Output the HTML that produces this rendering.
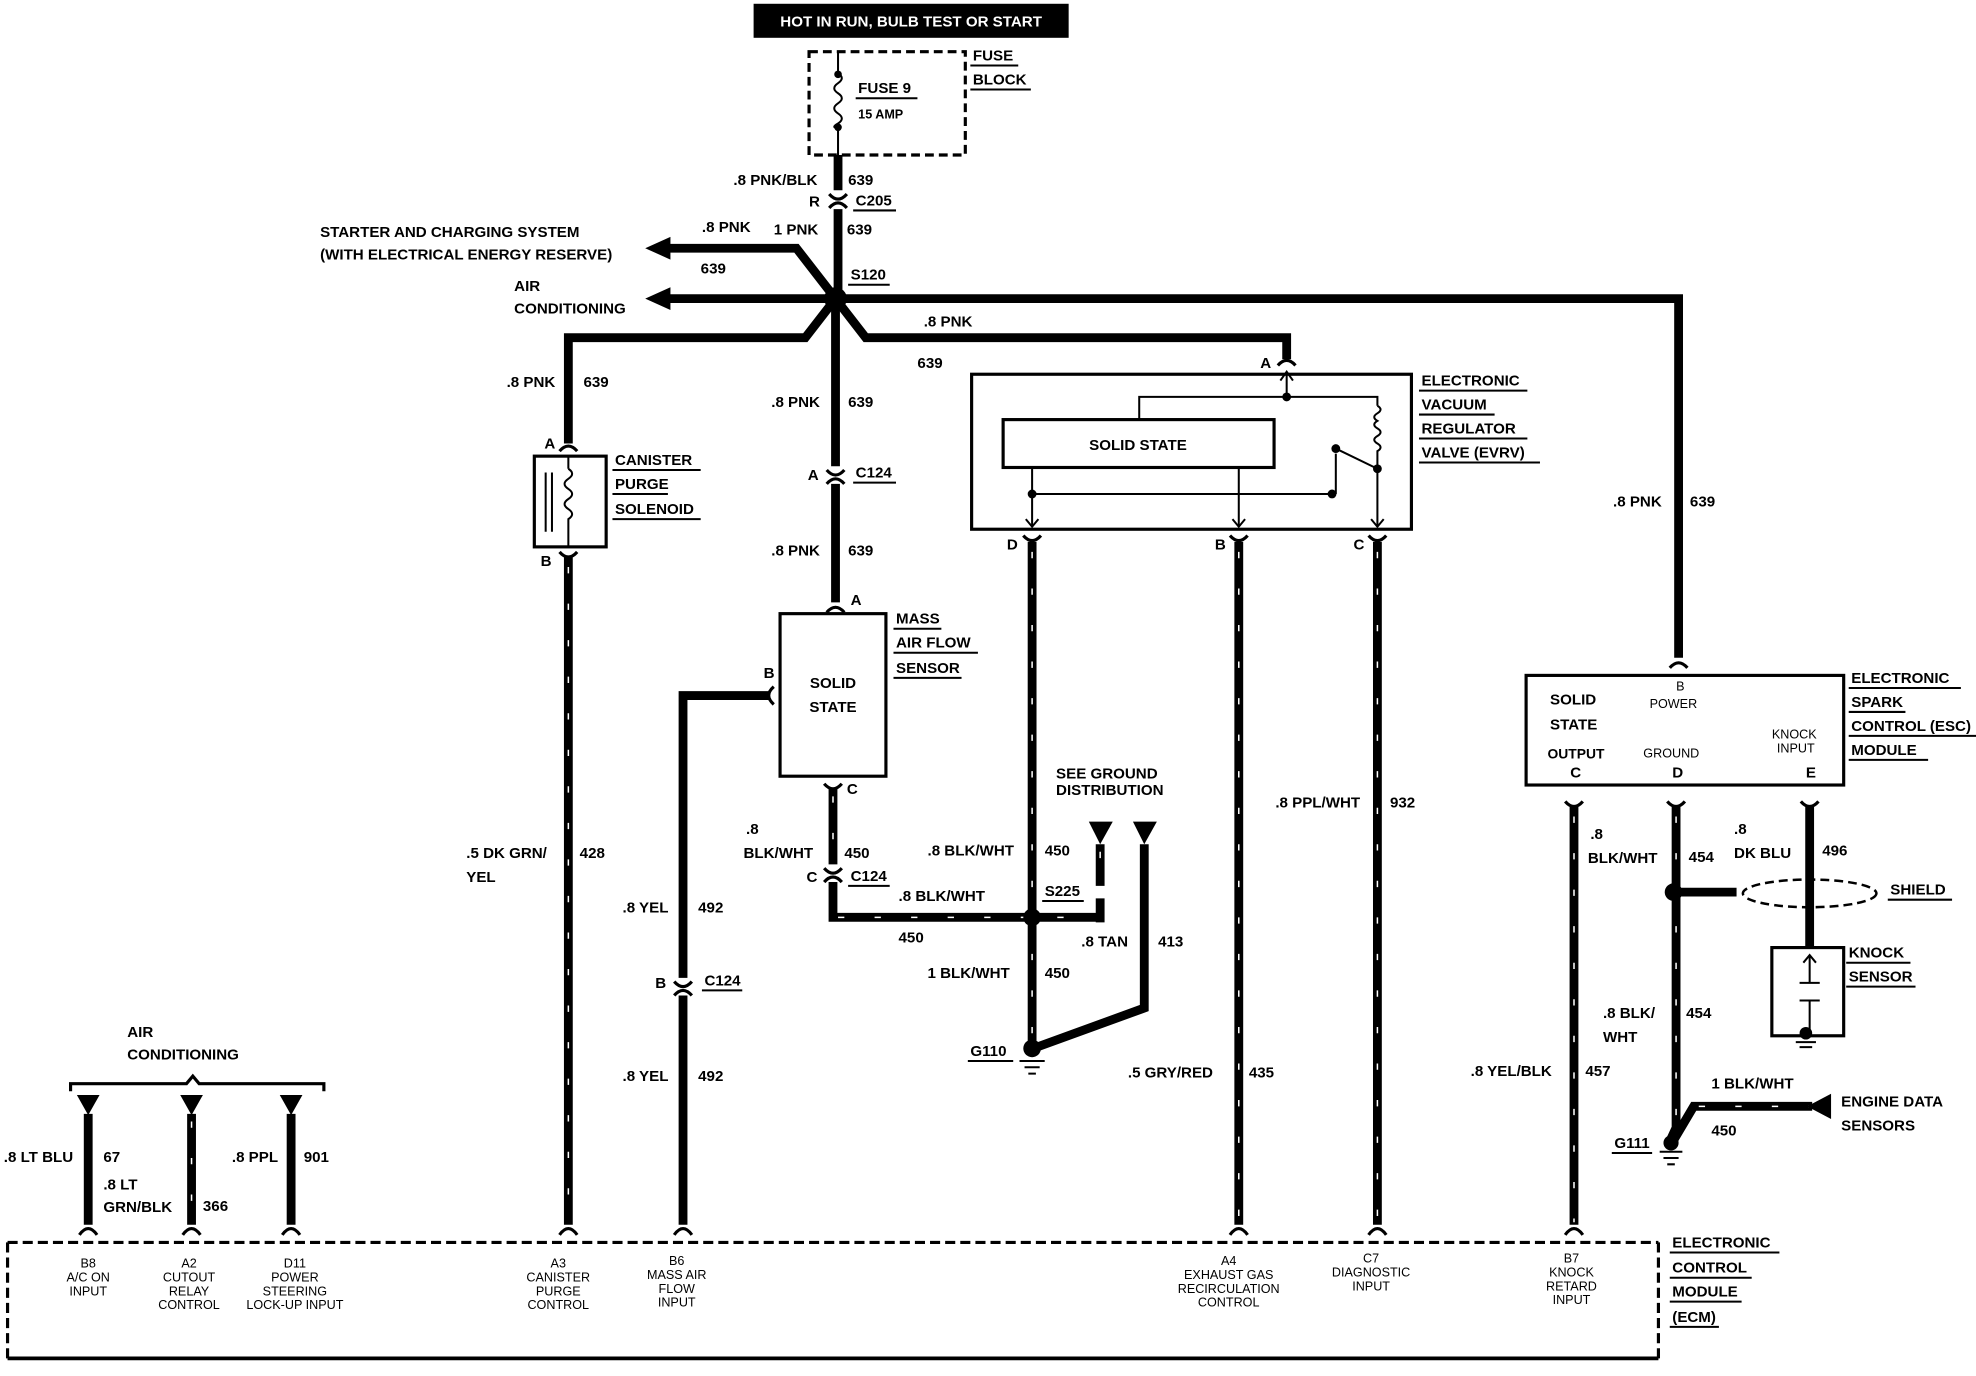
<!DOCTYPE html>
<html><head><meta charset="utf-8"><style>
html,body{margin:0;padding:0;background:#fff;}
svg{display:block;}
text{font-family:"Liberation Sans",sans-serif;font-weight:bold;font-size:12px;fill:#000;}
.s{font-size:10px;font-weight:normal;}
.w{stroke:#000;stroke-width:7;fill:none;stroke-linejoin:miter;}
.st{stroke:#fff;stroke-width:1.2;stroke-dasharray:5 24;fill:none;}
.t{stroke:#000;stroke-width:1.6;fill:none;}
.u{stroke:#000;stroke-width:1.6;}
.f{stroke:#000;stroke-width:2.5;fill:none;}
</style></head><body>
<svg width="1976" height="1376" viewBox="0 0 1568 1092" preserveAspectRatio="none" xmlns="http://www.w3.org/2000/svg">
<rect x="598" y="3" width="250" height="27" fill="#000"/>
<text x="723" y="21" text-anchor="middle" style="fill:#fff;font-size:12px">HOT IN RUN, BULB TEST OR START</text>
<rect x="642" y="41" width="124" height="82" fill="none" stroke="#000" stroke-width="2.5" stroke-dasharray="7 4"/>
<path class="t" d="M665 41 V58 M665 102 V123 M665 58 q6 4 0 8 q-6 4 0 8 q6 4 0 8 q-6 4 0 8 q6 4 0 8 q-6 3 0 4"/>
<circle cx="665" cy="59" r="3"/><circle cx="665" cy="101" r="3"/>
<text x="681" y="74">FUSE 9</text><line class="u" x1="679" y1="78" x2="728" y2="78"/>
<text x="681" y="94" style="font-size:10px">15 AMP</text>
<text x="772" y="48">FUSE</text><line class="u" x1="770" y1="52" x2="808" y2="52"/>
<text x="772" y="67">BLOCK</text><line class="u" x1="770" y1="71" x2="818" y2="71"/>
<path class="w" d="M665 123 V151 M665 166 V237"/>
<path class="f" d="M658 154 Q665 162 672 154 M658 165 Q665 157 672 165"/>
<text x="582" y="147">.8 PNK/BLK</text><text x="673" y="147">639</text>
<text x="642" y="164">R</text><text x="679" y="163">C205</text><line class="u" x1="677" y1="167" x2="711" y2="167"/>
<text x="614" y="186">1 PNK</text><text x="672" y="186">639</text>
<path class="w" d="M663 237 L632 197 H530"/>
<path d="M512 197 L532 188 V206 Z"/>
<text x="557" y="184">.8 PNK</text><text x="556" y="217">639</text>
<text x="254" y="188">STARTER AND CHARGING SYSTEM</text>
<text x="254" y="206">(WITH ELECTRICAL ENERGY RESERVE)</text>
<path class="w" d="M663 237 H530"/>
<path d="M512 237 L532 228 V246 Z"/>
<text x="408" y="231">AIR</text><text x="408" y="249">CONDITIONING</text>
<path class="w" d="M663 237 H1332 V522"/>
<text x="1280" y="402">.8 PNK</text><text x="1341" y="402">639</text>
<circle cx="663" cy="237" r="9"/>
<text x="675" y="222">S120</text><line class="u" x1="673" y1="226" x2="706" y2="226"/>
<path class="w" d="M663 237 L639 268 H451 V352"/>
<text x="402" y="307">.8 PNK</text><text x="463" y="307">639</text>
<path class="w" d="M663 237 L687 268 H1021 V285"/>
<path class="f" d="M1014 290 Q1021 282 1028 290"/>
<text x="733" y="259">.8 PNK</text><text x="728" y="292">639</text>
<text x="1000" y="292">A</text>
<path class="w" d="M663 237 V370 M663 384 V478"/>
<path class="f" d="M656 373 Q663 381 670 373 M656 384 Q663 376 670 384"/>
<text x="612" y="323">.8 PNK</text><text x="673" y="323">639</text>
<text x="641" y="381">A</text><text x="679" y="379">C124</text><line class="u" x1="677" y1="383" x2="711" y2="383"/>
<text x="612" y="441">.8 PNK</text><text x="673" y="441">639</text>
<path class="f" d="M656 486 Q663 478 670 486"/><text x="675" y="480">A</text>
<rect x="424" y="362" width="57" height="72" fill="none" stroke="#000" stroke-width="2.5"/>
<path class="f" d="M444 358 Q451 350 458 358 M444 438 Q451 446 458 438"/>
<path class="t" d="M433 375 V422 M438 375 V422 M451 362 V372 M451 372 q6 4 0 8 q-6 4 0 8 q6 4 0 8 q-6 4 0 8 q6 4 0 8 V434"/>
<text x="432" y="356">A</text><text x="429" y="449">B</text>
<text x="488" y="369">CANISTER</text><line class="u" x1="486" y1="373" x2="556" y2="373"/>
<text x="488" y="388">PURGE</text><line class="u" x1="486" y1="392" x2="530" y2="392"/>
<text x="488" y="408">SOLENOID</text><line class="u" x1="486" y1="412" x2="556" y2="412"/>
<path class="w" d="M451 442 V972"/><path class="st" d="M451 450 V970"/>
<path class="f" d="M444 980 Q451 970 458 980"/>
<text x="370" y="681">.5 DK GRN/</text><text x="370" y="700">YEL</text><text x="460" y="681">428</text>
<rect x="771" y="297" width="349" height="123" fill="none" stroke="#000" stroke-width="2.5"/>
<rect x="796" y="333" width="215" height="38" fill="none" stroke="#000" stroke-width="2.5"/>
<text x="903" y="357" text-anchor="middle">SOLID STATE</text>
<path class="t" d="M1021 297 V315 M904 333 V315 H1093 V322 M1093 322 q5 3 0 6 q-5 3 0 6 q-5 3 0 6 q5 3 0 6 q-5 3 0 6 q5 3 0 6 V372 M1093 372 L1060 356 M1093 372 V418 M1060 360 V392 M1057 392 H819 M819 371 V418 M983 371 V418"/>
<path class="t" d="M1016 302 L1021 295 L1026 302 M814 412 L819 418 L824 412 M978 412 L983 418 L988 412 M1088 412 L1093 418 L1098 412"/>
<circle cx="1021" cy="315" r="3.5"/><circle cx="1093" cy="372" r="3.5"/><circle cx="1060" cy="356" r="3.5"/><circle cx="1057" cy="392" r="3.5"/><circle cx="819" cy="392" r="3.5"/>
<text x="1128" y="306">ELECTRONIC</text><line class="u" x1="1126" y1="310" x2="1212" y2="310"/>
<text x="1128" y="325">VACUUM</text><line class="u" x1="1126" y1="329" x2="1186" y2="329"/>
<text x="1128" y="344">REGULATOR</text><line class="u" x1="1126" y1="348" x2="1212" y2="348"/>
<text x="1128" y="363">VALVE (EVRV)</text><line class="u" x1="1126" y1="367" x2="1222" y2="367"/>
<text x="799" y="436">D</text><text x="964" y="436">B</text><text x="1074" y="436">C</text>
<path class="f" d="M812 425 Q819 433 826 425 M976 425 Q983 433 990 425 M1086 425 Q1093 433 1100 425"/>
<path class="w" d="M819 430 V830"/><path class="st" d="M819 438 V825"/>
<path class="w" d="M983 430 V972"/><path class="st" d="M983 438 V970"/>
<path class="w" d="M1093 430 V972"/><path class="st" d="M1093 438 V970"/>
<path class="f" d="M976 980 Q983 970 990 980 M1086 980 Q1093 970 1100 980"/>
<text x="895" y="855">.5 GRY/RED</text><text x="991" y="855">435</text>
<text x="1012" y="641">.8 PPL/WHT</text><text x="1103" y="641">932</text>
<rect x="619" y="487" width="84" height="129" fill="none" stroke="#000" stroke-width="2.5"/>
<text x="661" y="546" text-anchor="middle">SOLID</text><text x="661" y="565" text-anchor="middle">STATE</text>
<text x="711" y="495">MASS</text><line class="u" x1="709" y1="499" x2="747" y2="499"/>
<text x="711" y="514">AIR FLOW</text><line class="u" x1="709" y1="518" x2="776" y2="518"/>
<text x="711" y="534">SENSOR</text><line class="u" x1="709" y1="538" x2="763" y2="538"/>
<text x="606" y="538">B</text>
<path class="f" d="M614 545 Q606 552 614 559"/>
<path class="w" d="M611 552 H542 V776 M542 790 V972"/>
<path class="f" d="M535 779 Q542 787 549 779 M535 790 Q542 782 549 790 M535 980 Q542 970 549 980"/>
<text x="494" y="724">.8 YEL</text><text x="554" y="724">492</text>
<text x="520" y="784">B</text><text x="559" y="782">C124</text><line class="u" x1="557" y1="786" x2="589" y2="786"/>
<text x="494" y="858">.8 YEL</text><text x="554" y="858">492</text>
<text x="672" y="630">C</text>
<path class="f" d="M654 622 Q661 630 668 622"/>
<path class="w" d="M661 626 V686 M661 700 V728 H870"/><path class="st" d="M661 632 V684 M665 728 H865"/>
<path class="f" d="M654 689 Q661 697 668 689 M654 700 Q661 692 668 700"/>
<text x="592" y="662">.8</text><text x="590" y="681">BLK/WHT</text><text x="670" y="681">450</text>
<text x="640" y="700">C</text><text x="675" y="699">C124</text><line class="u" x1="673" y1="703" x2="706" y2="703"/>
<text x="713" y="715">.8 BLK/WHT</text><text x="713" y="748">450</text>
<text x="736" y="679">.8 BLK/WHT</text><text x="829" y="679">450</text>
<text x="736" y="776">1 BLK/WHT</text><text x="829" y="776">450</text>
<circle cx="819" cy="728" r="7"/>
<text x="829" y="711">S225</text><line class="u" x1="827" y1="715" x2="860" y2="715"/>
<text x="838" y="618">SEE GROUND</text><text x="838" y="631">DISTRIBUTION</text>
<path d="M864 652 H883 L873 670 Z"/><path d="M899 652 H918 L908 670 Z"/>
<path class="w" d="M873 670 V703 M873 713 V732"/><path class="st" d="M873 676 V730"/>
<path class="w" d="M908 670 V800 L820 832"/>
<text x="858" y="751">.8 TAN</text><text x="919" y="751">413</text>
<circle cx="819" cy="832" r="7"/>
<path class="t" d="M809 842 H829 M813 847 H825 M816 852 H822"/>
<text x="770" y="838">G110</text><line class="u" x1="768" y1="842" x2="804" y2="842"/>
<rect x="1211" y="536" width="252" height="87" fill="none" stroke="#000" stroke-width="2.5"/>
<path class="f" d="M1325 530 Q1332 522 1339 530"/>
<text x="1230" y="559">SOLID</text><text x="1230" y="579">STATE</text>
<text x="1228" y="602" style="font-size:11px">OUTPUT</text><text x="1246" y="617">C</text>
<text x="1330" y="548" class="s">B</text><text x="1309" y="562" class="s">POWER</text>
<text x="1304" y="601" class="s">GROUND</text><text x="1327" y="617">D</text>
<text x="1406" y="586" class="s">KNOCK</text><text x="1410" y="597" class="s">INPUT</text><text x="1433" y="617">E</text>
<text x="1469" y="542">ELECTRONIC</text><line class="u" x1="1467" y1="546" x2="1556" y2="546"/>
<text x="1469" y="561">SPARK</text><line class="u" x1="1467" y1="565" x2="1512" y2="565"/>
<text x="1469" y="580">CONTROL (ESC)</text><line class="u" x1="1467" y1="584" x2="1568" y2="584"/>
<text x="1469" y="599">MODULE</text><line class="u" x1="1467" y1="603" x2="1530" y2="603"/>
<path class="f" d="M1242 636 Q1249 644 1256 636 M1323 636 Q1330 644 1337 636 M1429 636 Q1436 644 1443 636"/>
<path class="w" d="M1249 640 V972"/><path class="st" d="M1249 648 V970"/>
<path class="f" d="M1242 980 Q1249 970 1256 980"/>
<text x="1262" y="666">.8</text><text x="1260" y="685">BLK/WHT</text><text x="1340" y="684">454</text>
<text x="1167" y="854">.8 YEL/BLK</text><text x="1258" y="854">457</text>
<path class="w" d="M1330 640 V895 L1324 908"/><path class="st" d="M1330 648 V890"/>
<circle cx="1328" cy="708" r="7"/><path class="w" d="M1330 708 H1378"/>
<ellipse cx="1436" cy="709" rx="53" ry="11" fill="none" stroke="#000" stroke-width="2" stroke-dasharray="7 4"/>
<text x="1500" y="710">SHIELD</text><line class="u" x1="1498" y1="714" x2="1549" y2="714"/>
<path class="w" d="M1436 640 V752"/>
<text x="1376" y="662">.8</text><text x="1376" y="681">DK BLU</text><text x="1446" y="679">496</text>
<rect x="1406" y="752" width="57" height="70" fill="none" stroke="#000" stroke-width="2.5"/>
<path class="t" d="M1436 758 V780 M1428 780 H1444 M1428 794 H1444 M1436 794 V818"/>
<path class="t" d="M1431 764 L1436 758 L1441 764"/>
<circle cx="1433" cy="820" r="5"/><path class="t" d="M1425 827 H1441 M1428 831 H1438"/>
<text x="1467" y="760">KNOCK</text><line class="u" x1="1465" y1="764" x2="1516" y2="764"/>
<text x="1467" y="779">SENSOR</text><line class="u" x1="1465" y1="783" x2="1520" y2="783"/>
<text x="1272" y="808">.8 BLK/</text><text x="1272" y="827">WHT</text><text x="1338" y="808">454</text>
<path class="w" d="M1328 905 L1344 878 H1438"/><path class="st" d="M1348 878 H1436"/>
<path d="M1453 868 L1434 878 L1453 888 Z"/>
<text x="1358" y="864">1 BLK/WHT</text><text x="1358" y="901">450</text>
<text x="1461" y="878">ENGINE DATA</text><text x="1461" y="897">SENSORS</text>
<circle cx="1326" cy="907" r="6"/><path class="t" d="M1317 914 H1335 M1320 919 H1332 M1323 924 H1329"/>
<text x="1281" y="911">G111</text><line class="u" x1="1279" y1="915" x2="1311" y2="915"/>
<text x="101" y="823">AIR</text><text x="101" y="841">CONDITIONING</text>
<path class="f" d="M56 866 V860 H148 L153 854 L158 860 H257 V866"/>
<path d="M61 869 H79 L70 885 Z"/><path d="M143 869 H161 L152 885 Z"/><path d="M222 869 H240 L231 885 Z"/>
<path class="w" d="M70 884 V972 M152 884 V972 M231 884 V972"/><path class="st" d="M152 890 V968"/>
<path class="f" d="M63 980 Q70 970 77 980 M145 980 Q152 970 159 980 M224 980 Q231 970 238 980"/>
<text x="3" y="922">.8 LT BLU</text><text x="82" y="922">67</text>
<text x="82" y="944">.8 LT</text><text x="82" y="962">GRN/BLK</text><text x="161" y="961">366</text>
<text x="184" y="922">.8 PPL</text><text x="241" y="922">901</text>
<path d="M6 986 H1316 M6 986 V1078 M1316 986 V1078" fill="none" stroke="#000" stroke-width="2.5" stroke-dasharray="8 4"/>
<line x1="6" y1="1078" x2="1316" y2="1078" stroke="#000" stroke-width="3"/>
<g class="s" text-anchor="middle">
<text x="70" y="1006" class="s">B8</text><text x="70" y="1017" class="s">A/C ON</text><text x="70" y="1028" class="s">INPUT</text>
<text x="150" y="1006" class="s">A2</text><text x="150" y="1017" class="s">CUTOUT</text><text x="150" y="1028" class="s">RELAY</text><text x="150" y="1039" class="s">CONTROL</text>
<text x="234" y="1006" class="s">D11</text><text x="234" y="1017" class="s">POWER</text><text x="234" y="1028" class="s">STEERING</text><text x="234" y="1039" class="s">LOCK-UP INPUT</text>
<text x="443" y="1006" class="s">A3</text><text x="443" y="1017" class="s">CANISTER</text><text x="443" y="1028" class="s">PURGE</text><text x="443" y="1039" class="s">CONTROL</text>
<text x="537" y="1004" class="s">B6</text><text x="537" y="1015" class="s">MASS AIR</text><text x="537" y="1026" class="s">FLOW</text><text x="537" y="1037" class="s">INPUT</text>
<text x="975" y="1004" class="s">A4</text><text x="975" y="1015" class="s">EXHAUST GAS</text><text x="975" y="1026" class="s">RECIRCULATION</text><text x="975" y="1037" class="s">CONTROL</text>
<text x="1088" y="1002" class="s">C7</text><text x="1088" y="1013" class="s">DIAGNOSTIC</text><text x="1088" y="1024" class="s">INPUT</text>
<text x="1247" y="1002" class="s">B7</text><text x="1247" y="1013" class="s">KNOCK</text><text x="1247" y="1024" class="s">RETARD</text><text x="1247" y="1035" class="s">INPUT</text>
</g>
<text x="1327" y="990">ELECTRONIC</text><line class="u" x1="1325" y1="994" x2="1412" y2="994"/>
<text x="1327" y="1010">CONTROL</text><line class="u" x1="1325" y1="1014" x2="1390" y2="1014"/>
<text x="1327" y="1029">MODULE</text><line class="u" x1="1325" y1="1033" x2="1382" y2="1033"/>
<text x="1327" y="1049">(ECM)</text><line class="u" x1="1325" y1="1053" x2="1364" y2="1053"/>
</svg>
</body></html>
